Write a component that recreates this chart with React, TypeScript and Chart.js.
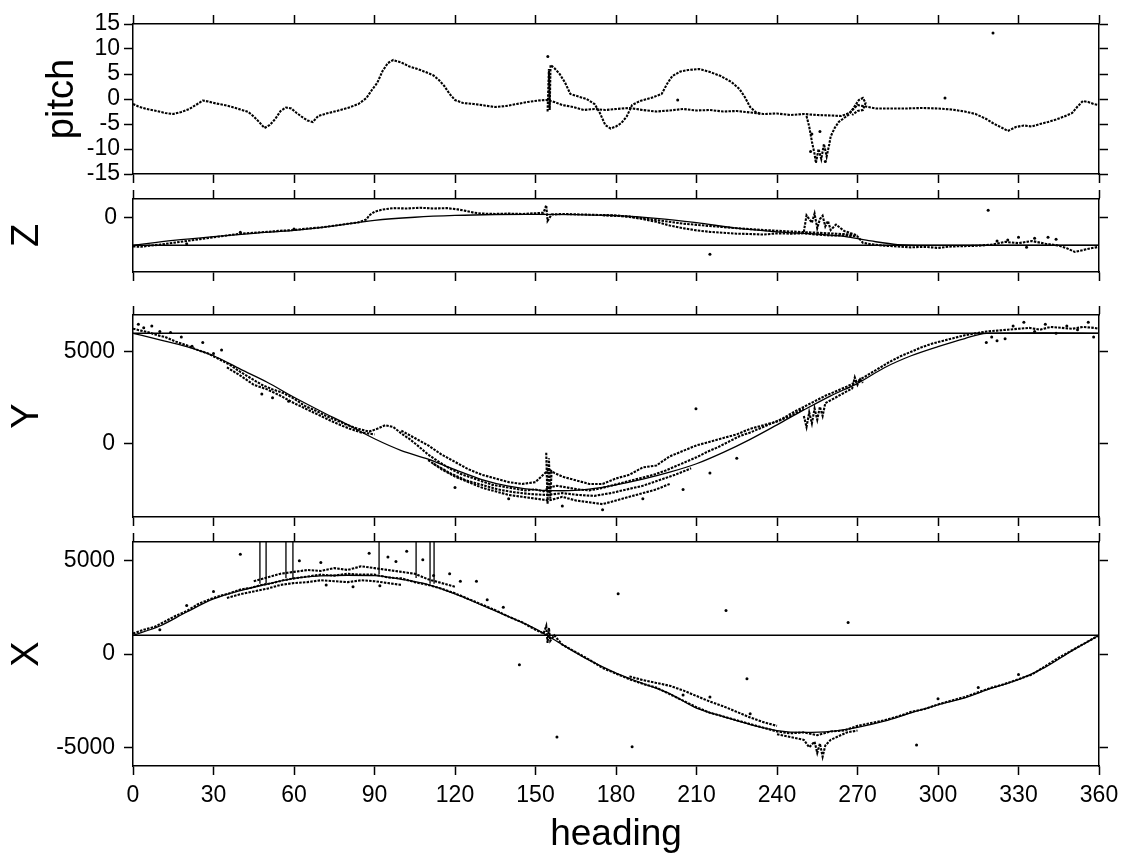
import React, { useEffect, useRef } from "react";
import { Chart, registerables } from "chart.js";

Chart.register(...registerables);

const FONT = '"Liberation Sans", Arial, Helvetica, sans-serif';

type P = [number, number];

// ---------- shared axis ----------
const headingTicks = [0, 30, 60, 90, 120, 150, 180, 210, 240, 270, 300, 330, 360];

// ---------- pitch panel ----------
const pitchTicks = [-15, -10, -5, 0, 5, 10, 15];
const pitchMain: P[] = [
  [0, -1.0], [2, -1.5], [5, -2.0], [8, -2.3], [12, -2.8], [15, -3.0], [18, -2.6], [21, -2.0], [24, -1.0], [26, -0.3],
  [28, -0.5], [31, -0.9], [34, -1.2], [37, -1.6], [40, -2.1], [43, -2.6], [45, -3.5], [47, -4.6], [49, -5.8], [51, -5.2],
  [53, -4.0], [55, -2.4], [57, -1.7], [59, -1.9], [61, -2.8], [63, -3.6], [65, -4.3], [67, -4.6], [69, -3.4], [72, -2.9],
  [76, -2.4], [80, -1.8], [84, -1.0], [87, 0.2], [89, 1.8], [91, 3.2], [93, 5.6], [95, 7.2], [97, 7.8], [100, 7.3],
  [103, 6.5], [106, 6.0], [109, 5.4], [112, 4.7], [114, 3.8], [116, 2.6], [118, 1.0], [120, -0.2], [123, -0.8], [127, -1.0],
  [131, -1.3], [135, -1.6], [139, -1.4], [143, -1.0], [147, -0.6], [151, -0.3], [154, -0.2], [157, -0.6], [160, -1.2],
  [164, -1.6], [168, -2.2], [172, -2.0], [176, -2.2], [180, -2.0], [185, -1.8], [190, -2.2], [195, -2.5], [200, -2.3],
  [205, -2.0], [210, -2.3], [215, -2.2], [220, -2.5], [225, -2.4], [230, -2.7], [235, -3.0], [240, -2.9], [245, -3.2],
  [250, -3.0], [255, -3.2], [260, -3.3], [264, -3.4], [267, -2.8], [270, -1.2], [273, -1.5], [277, -1.9], [282, -1.9],
  [288, -1.9], [294, -1.8], [300, -1.9], [305, -2.1], [310, -2.5], [314, -3.0], [318, -4.0], [321, -5.0], [324, -5.8],
  [326, -6.4], [329, -5.6], [332, -5.3], [335, -5.5], [338, -5.0], [341, -4.6], [344, -4.1], [347, -3.5], [350, -2.8],
  [352, -1.5], [354, -0.4], [356, -0.6], [358, -1.0], [360, -1.2],
];
const pitchLoop: P[] = [
  [154.5, -2.5], [155, 6.0], [155.3, -2.2], [155.6, 6.8], [157, 6.2], [159, 5.0], [161, 3.3], [163, 1.0], [166, 0.5],
  [169, 0.0], [172, -1.0], [174, -2.8], [176, -5.2], [178, -5.9], [180, -5.5], [182, -4.8], [184, -3.5], [186, -1.2],
  [189, -0.4], [193, 0.2], [197, 1.0], [199, 3.0], [201, 4.6], [204, 5.5], [207, 5.8], [211, 6.0], [215, 5.4],
  [219, 4.6], [223, 3.4], [226, 2.0], [228, 0.4], [230, -1.6], [232, -2.6], [234, -3.0],
];
const pitchDip: P[] = [
  [251, -3.4], [252, -5.5], [253, -8.5], [254, -11], [254.5, -12.8], [255.5, -10], [256.5, -12], [257.5, -9],
  [258.5, -11.5], [259.5, -9], [260, -7.5], [261.5, -5.8], [263, -4.6], [265, -3.8], [267, -3.0], [269, -1.4],
  [270.5, -0.2], [272, 0.2], [273, -0.8], [272, -2.2], [270, -2.4], [268, -3.2],
];
const pitchDots: P[] = [
  [320.5, 13.2], [302.6, 0.2], [154.6, 8.5], [253, -7], [256, -6.5], [258, -12.5], [252.5, -10.5], [203, -0.2],
];

// ---------- Z panel ----------
const zTicks = [0];
const zRefLevel = -1540;
const zFit: P[] = [
  [0, -1540], [15, -1270], [30, -1060], [45, -880], [60, -720], [75, -470], [90, -170], [105, 0], [120, 100],
  [135, 150], [150, 160], [165, 140], [180, 90], [195, -60], [210, -300], [225, -600], [240, -800], [255, -930],
  [265, -1050], [275, -1300], [285, -1500], [295, -1540], [330, -1540], [360, -1540],
];
const zTraceMain: P[] = [
  [0, -1600], [3, -1620], [6, -1560], [10, -1500], [15, -1400], [20, -1300], [25, -1200], [30, -1100], [35, -1000],
  [40, -900], [45, -850], [50, -800], [55, -740], [60, -700], [65, -620], [70, -560], [75, -460], [80, -360],
  [84, -280], [86, -180], [87, -120], [88, 100], [90, 300], [93, 420], [97, 500], [102, 480], [107, 520], [112, 480],
  [117, 500], [121, 430], [124, 350], [127, 250], [130, 200], [135, 180], [140, 200], [145, 180], [150, 220],
  [153, 250], [154, 660], [154.5, -200], [156, 150], [160, 180], [165, 160], [170, 140], [175, 120], [180, 100],
  [185, 20], [190, -100], [195, -250], [200, -450], [205, -600], [210, -720], [215, -800], [220, -850], [225, -900],
  [230, -920], [235, -950], [240, -880], [245, -900], [250, -880], [255, -950], [260, -1000], [265, -1000],
  [270, -1050], [272, -1400], [275, -1480], [280, -1560], [285, -1600], [290, -1650], [295, -1620], [300, -1680],
  [305, -1600], [310, -1580], [315, -1560], [320, -1500], [325, -1350], [330, -1420], [335, -1300], [340, -1450],
  [345, -1550], [348, -1700], [351, -1900], [354, -1800], [357, -1700], [360, -1620],
];
const zTraceUpper: P[] = [
  [175, 110], [185, 40], [195, -150], [205, -350], [215, -480], [225, -600], [235, -700], [245, -780], [255, -850],
  [262, -900], [268, -950],
];
const zCluster: P[] = [
  [250, -800], [251, 100], [253, -300], [254, 200], [255, -600], [256, -100], [257, 80], [258, -500], [259, -200],
  [260, -700], [262, -400], [265, -750], [268, -900], [270, -1000],
];
const zDots: P[] = [
  [318.7, 380], [215, -2030], [326, -1250], [330, -1100], [336, -1150], [341, -1100], [344, -1200], [322, -1300],
  [333, -1650], [20, -1450], [40, -820], [60, -640],
];

// ---------- Y panel ----------
const yTicks = [0, 5000];
const yRefLevel = 6000;
const yFit: P[] = [
  [0, 6000], [10, 5650], [20, 5280], [30, 4780], [40, 4050], [50, 3340], [60, 2520], [70, 1760], [80, 1030],
  [90, 260], [100, -380], [110, -850], [120, -1420], [130, -1960], [140, -2320], [150, -2520], [160, -2570],
  [170, -2480], [180, -2250], [190, -1940], [200, -1560], [210, -1100], [220, -480], [230, 230], [240, 1020],
  [250, 1830], [260, 2600], [270, 3280], [280, 4130], [290, 4780], [300, 5280], [310, 5720], [318, 6000],
  [340, 6020], [360, 6000],
];
const yTraceMain: P[] = [
  [0, 6250], [3, 6150], [6, 6050], [9, 5900], [12, 5800], [16, 5550], [20, 5350], [24, 5100], [28, 4900], [32, 4600],
  [36, 4300], [40, 3900], [44, 3550], [48, 3200], [52, 2950], [56, 2750], [60, 2450], [64, 2050], [68, 1800],
  [72, 1500], [76, 1250], [80, 1000], [84, 800], [88, 650], [91, 800], [94, 1000], [97, 900], [100, 550], [103, 250],
  [106, -100], [110, -600], [114, -1000], [118, -1350], [122, -1650], [126, -1850], [130, -2050], [134, -2250],
  [138, -2350], [142, -2450], [146, -2550], [150, -2500], [153, -2600], [155, -2400], [158, -2300], [162, -2400],
  [166, -2500], [170, -2550], [174, -2450], [178, -2300], [182, -2150], [186, -2000], [190, -1850], [194, -1700],
  [198, -1500], [202, -1250], [206, -1000], [210, -750], [214, -450], [218, -200], [222, 100], [226, 400],
  [230, 600], [234, 850], [238, 1100], [242, 1350], [246, 1700], [250, 2000], [254, 2300], [258, 2600], [262, 2850],
  [266, 3100], [270, 3400], [274, 3750], [278, 4100], [282, 4450], [286, 4750], [290, 5000], [294, 5250],
  [298, 5450], [302, 5600], [306, 5750], [310, 5900], [314, 6000], [318, 6100], [322, 6150], [326, 6200],
  [330, 6250], [334, 6300], [338, 6200], [342, 6350], [346, 6300], [350, 6250], [354, 6350], [358, 6300], [360, 6250],
];
const yTraceLow: P[] = [
  [35, 4150], [40, 3700], [45, 3200], [50, 2950], [55, 2600], [60, 2200], [65, 1850], [70, 1500], [75, 1150],
  [80, 850], [85, 600], [90, 500],
];
const yCloudLow: P[] = [
  [110, -900], [115, -1400], [120, -1800], [125, -2100], [130, -2400], [135, -2600], [140, -2800], [145, -2900],
  [150, -3000], [155, -3100], [160, -2900], [165, -3100], [170, -3200], [175, -3300], [180, -3100], [185, -2900],
  [190, -2700], [195, -2500], [200, -2200],
];
const yCloudMid: P[] = [
  [112, -1100], [118, -1600], [124, -2000], [130, -2250], [136, -2500], [142, -2650], [148, -2750], [154, -2800],
  [160, -2700], [166, -2800], [172, -2850], [178, -2700], [184, -2500], [190, -2300], [196, -2000], [202, -1700],
  [208, -1350],
];
const yCloudHigh: P[] = [
  [100, 700], [105, 300], [110, -100], [115, -600], [120, -1000], [125, -1400], [130, -1700], [135, -1900],
  [140, -2100], [145, -2200], [150, -2100], [155, -1400], [157, -1600], [160, -1800], [165, -2000], [170, -2200],
  [175, -2200], [180, -1900], [185, -1700], [190, -1300], [195, -1200], [200, -700], [205, -400], [210, -100],
  [215, 100], [220, 300], [225, 500], [230, 800], [235, 1000], [240, 1200], [245, 1500], [250, 1900],
];
const ySpike: P[] = [
  [154, -500], [154.5, -3300], [155, -800], [155.5, -3000], [156, -1500],
];
const yCluster: P[] = [
  [250, 1500], [251, 900], [252, 1700], [253, 1100], [254, 1900], [255, 1300], [256, 2000], [257, 1500], [258, 2200],
  [268, 3000], [269, 3600], [270, 3200], [271, 3500], [272, 3300],
];
const yDots: P[] = [
  [2, 6500], [4, 6300], [7, 6400], [10, 6100], [14, 6050], [18, 5800], [22, 5300], [26, 5500], [30, 4900], [33, 5100],
  [318, 5500], [320, 5800], [322, 5600], [325, 5700], [328, 6400], [332, 6600], [336, 6100], [340, 6500], [344, 6000],
  [348, 6400], [352, 6200], [356, 6600], [358, 5800], [209.8, 1900], [120, -2400], [140, -3000], [160, -3400],
  [175, -3600], [190, -3000], [205, -2500], [215, -1600], [225, -800], [48, 2700], [52, 2500], [58, 2300],
];

// ---------- X panel ----------
const xTicks = [-5000, 0, 5000];
const xRefLevel = 1000;
const xFit: P[] = [
  [0, 1000], [10, 1500], [20, 2250], [30, 2950], [40, 3400], [50, 3750], [60, 4050], [70, 4180], [80, 4220],
  [90, 4200], [100, 4000], [110, 3720], [120, 3220], [130, 2620], [140, 2000], [150, 1350], [160, 500], [170, -330],
  [180, -1020], [190, -1580], [200, -2120], [210, -2900], [220, -3350], [230, -3780], [240, -4100], [250, -4200],
  [260, -4150], [270, -3930], [280, -3600], [290, -3150], [300, -2720], [310, -2350], [320, -1830], [330, -1370],
  [340, -700], [350, 180], [360, 1000],
];
const xTraceMain: P[] = [
  [0, 1100], [4, 1300], [8, 1450], [12, 1750], [16, 2050], [20, 2300], [24, 2650], [28, 2900], [32, 3100], [36, 3250],
  [40, 3450], [44, 3550], [48, 3700], [52, 3800], [56, 3950], [60, 4050], [65, 4150], [70, 4250], [75, 4200],
  [80, 4300], [85, 4250], [90, 4250], [95, 4100], [100, 4050], [105, 3850], [110, 3700], [115, 3500], [120, 3250],
  [125, 2950], [130, 2650], [135, 2350], [140, 2000], [145, 1700], [150, 1300], [153, 1100], [154, 1500], [154.5, 600],
  [155, 1400], [155.5, 700], [157, 1000], [160, 500], [165, 100], [170, -300], [175, -750], [180, -1050],
  [185, -1350], [190, -1600], [195, -1800], [200, -2150], [205, -2500], [210, -2850], [215, -3150], [220, -3350],
  [225, -3550], [230, -3750], [235, -3950], [240, -4150], [245, -4250], [250, -4200], [255, -4350], [260, -4150],
  [265, -4100], [270, -3850], [275, -3700], [280, -3550], [285, -3350], [290, -3100], [295, -2950], [300, -2700],
  [305, -2500], [310, -2300], [315, -2050], [320, -1800], [325, -1600], [330, -1350], [335, -1100], [340, -650],
  [345, -200], [350, 200], [355, 600], [360, 1000],
];
const xCloudHigh: P[] = [
  [45, 3900], [50, 4100], [55, 4300], [60, 4400], [65, 4500], [70, 4450], [75, 4600], [80, 4500], [85, 4700],
  [90, 4600], [95, 4500], [100, 4400], [105, 4300], [110, 4000], [115, 3800], [120, 3600],
];
const xCloudLow: P[] = [
  [35, 3000], [40, 3200], [45, 3350], [50, 3500], [55, 3700], [60, 3800], [65, 3850], [70, 3950], [75, 3900],
  [80, 3850], [85, 3950], [90, 3900], [95, 3800], [100, 3700],
];
const xBandMid: P[] = [
  [185, -1200], [190, -1400], [195, -1550], [200, -1700], [205, -1950], [210, -2250], [215, -2550], [220, -2800],
  [225, -3100], [230, -3400], [235, -3650], [240, -3850],
];
const xBandLow: P[] = [
  [240, -4300], [245, -4450], [250, -4600], [252, -5000], [254, -4700], [255, -5300], [256, -4800], [257, -5500],
  [258, -4900], [260, -4600], [263, -4400], [266, -4200], [270, -4100],
];
const xDots: P[] = [
  [40, 5350], [62, 5000], [70, 4900], [88, 5400], [95, 5200], [102, 5500], [108, 5050], [98, 4950], [128, 3900],
  [180.8, 3230], [221, 2330], [228.8, -1320], [144, -580], [158, -4440], [186, -4970], [266.5, 1690], [292, -4870],
  [118, 4300], [122, 3900], [30, 3350], [20, 2600], [10, 1300], [72, 3700], [82, 3600], [92, 3650], [112, 4200],
  [132, 2900], [138, 2500], [205, -2200], [215, -2300], [230, -3200], [300, -2400], [315, -1800], [330, -1100],
];
const xSpikeHeadings = [47.3, 49.6, 57.0, 59.6, 91.7, 105.5, 110.7, 112.2];
const xSpikeBottoms = [3760, 3810, 4070, 4070, 4280, 4070, 3760, 3760];
const xSpikeTop = 6000;

// ---------- dataset helpers ----------
const toXY = (arr: P[]) => arr.map(([x, y]) => ({ x, y }));
const refDs = (level: number) => ({
  data: [{ x: 0, y: level }, { x: 360, y: level }],
  showLine: true, pointRadius: 0, borderColor: "#000", borderWidth: 1.5, fill: false,
});
const fitDs = (arr: P[]) => ({
  data: toXY(arr), showLine: true, pointRadius: 0, borderColor: "#000", borderWidth: 1.3,
  cubicInterpolationMode: "monotone", fill: false,
});
const traceDs = (arr: P[]) => ({
  data: toXY(arr), showLine: true, pointRadius: 0, borderColor: "#000", borderWidth: 2.1,
  borderDash: [2.5, 1.2], tension: 0, fill: false,
});
const dotDs = (arr: P[]) => ({
  data: toXY(arr), showLine: false, pointRadius: 1.5, pointBackgroundColor: "#000", pointBorderWidth: 0,
});
const spikeDs = xSpikeHeadings.map((h, i) => ({
  data: [{ x: h, y: xSpikeTop }, { x: h, y: xSpikeBottoms[i] }],
  showLine: true, pointRadius: 0, borderColor: "#000", borderWidth: 1.3, fill: false,
}));

interface Panel {
  top: number; height: number; topH: number; bottomH: number;
  yMin: number; yMax: number; yTicks: number[];
  title: string; titlePad: number; tickPad: number; showX: boolean; datasets: any[];
}

const PANELS: Panel[] = [
  {
    top: 0, height: 186, topH: 24, bottomH: 12, yMin: -15, yMax: 15, yTicks: pitchTicks,
    title: "pitch", titlePad: 44, tickPad: 4, showX: false,
    datasets: [traceDs(pitchMain), traceDs(pitchLoop), traceDs(pitchDip), dotDs(pitchDots)],
  },
  {
    top: 186, height: 100, topH: 13, bottomH: 14, yMin: -3000, yMax: 1000, yTicks: zTicks,
    title: "Z", titlePad: 9, tickPad: 7, showX: false,
    datasets: [refDs(zRefLevel), fitDs(zFit), traceDs(zTraceMain), traceDs(zTraceUpper), traceDs(zCluster), dotDs(zDots)],
  },
  {
    top: 288, height: 240, topH: 27, bottomH: 11, yMin: -4000, yMax: 7000, yTicks: yTicks,
    title: "Y", titlePad: 9, tickPad: 9, showX: false,
    datasets: [
      refDs(yRefLevel), fitDs(yFit), traceDs(yTraceMain), traceDs(yTraceLow), traceDs(yCloudLow),
      traceDs(yCloudMid), traceDs(yCloudHigh), traceDs(ySpike), traceDs(yCluster), dotDs(yDots),
    ],
  },
  {
    top: 528, height: 325, topH: 14, bottomH: 87, yMin: -6000, yMax: 6000, yTicks: xTicks,
    title: "X", titlePad: 9, tickPad: 9, showX: true,
    datasets: [
      refDs(xRefLevel), fitDs(xFit), ...spikeDs, traceDs(xTraceMain), traceDs(xCloudHigh), traceDs(xCloudLow),
      traceDs(xBandMid), traceDs(xBandLow), dotDs(xDots),
    ],
  },
];

const noPad = (s: any) => {
  s.paddingLeft = 0; s.paddingRight = 0; s.paddingTop = 0; s.paddingBottom = 0;
};

function makeChart(canvas: HTMLCanvasElement, p: Panel) {
  const grid = {
    drawOnChartArea: false, drawTicks: true, tickLength: 9, tickWidth: 1.5, tickColor: "#000", color: "#000",
  };
  const border = { display: true, color: "#000", width: 1.5 };
  const setX = (s: any) => { s.ticks = headingTicks.map((v) => ({ value: v })); };
  const setY = (s: any) => { s.ticks = p.yTicks.map((v) => ({ value: v })); };
  return new Chart(canvas, {
    type: "scatter",
    data: { datasets: p.datasets },
    options: {
      animation: false,
      responsive: false,
      devicePixelRatio: 1,
      events: [],
      layout: { padding: 0 },
      plugins: { legend: { display: false }, tooltip: { enabled: false } },
      scales: {
        x: {
          type: "linear", position: "bottom", min: 0, max: 360, afterBuildTicks: setX,
          ticks: {
            display: p.showX, font: { family: FONT, size: 23 }, color: "#000", padding: 7,
            maxRotation: 0, autoSkip: false, callback: (v: any) => String(v),
          },
          grid, border,
          title: {
            display: p.showX, text: "heading", font: { family: FONT, size: 37, lineHeight: 1 }, color: "#000",
            padding: { top: 0, bottom: 0 },
          },
          afterFit: (s: any) => { s.height = p.bottomH; noPad(s); },
        },
        xTop: {
          type: "linear", position: "top", min: 0, max: 360, afterBuildTicks: setX,
          ticks: { display: false }, grid, border,
          afterFit: (s: any) => { s.height = p.topH; noPad(s); },
        },
        y: {
          type: "linear", position: "left", min: p.yMin, max: p.yMax, afterBuildTicks: setY,
          ticks: {
            font: { family: FONT, size: 23 }, color: "#000", padding: p.tickPad, autoSkip: false,
            callback: (v: any) => String(v),
          },
          grid, border,
          title: {
            display: true, text: p.title, font: { family: FONT, size: 38, lineHeight: 1 }, color: "#000",
            padding: { top: p.titlePad, bottom: 0 },
          },
          afterFit: (s: any) => { s.width = 133; noPad(s); },
        },
        yR: {
          type: "linear", position: "right", min: p.yMin, max: p.yMax, afterBuildTicks: setY,
          ticks: { display: false }, grid, border,
          afterFit: (s: any) => { s.width = 22; noPad(s); },
        },
      },
    } as any,
  });
}

export default function App() {
  const canvases = useRef<(HTMLCanvasElement | null)[]>([]);
  useEffect(() => {
    const charts = PANELS.map((p, i) => makeChart(canvases.current[i] as HTMLCanvasElement, p));
    return () => charts.forEach((c) => c.destroy());
  }, []);
  return (
    <div style={{ position: "absolute", left: 0, top: 0, width: 1121, height: 853, background: "#fff" }}>
      {PANELS.map((p, i) => (
        <canvas
          key={i}
          ref={(el) => { canvases.current[i] = el; }}
          width={1121}
          height={p.height}
          style={{ position: "absolute", left: 0, top: p.top, display: "block", width: 1121, height: p.height }}
        />
      ))}
    </div>
  );
}
